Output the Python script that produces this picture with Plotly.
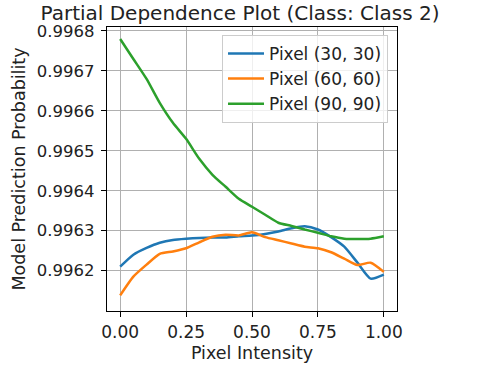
import plotly.graph_objects as go

# pixel intensity grid
intensity = [0.00, 0.05, 0.10, 0.15, 0.20, 0.25, 0.30, 0.35, 0.40, 0.45, 0.50,
             0.55, 0.60, 0.65, 0.70, 0.75, 0.80, 0.85, 0.90, 0.95, 1.00]

# partial dependence per pixel
pixel_30 = [0.99621, 0.99624, 0.996257, 0.99627, 0.996277, 0.99628, 0.996282, 0.996283,
            0.996283, 0.996286, 0.996288, 0.996292, 0.996298, 0.996306, 0.996311, 0.996303,
            0.996284, 0.99626, 0.99622, 0.99618, 0.99619]
pixel_60 = [0.996138, 0.996185, 0.996215, 0.996242, 0.996248, 0.996256, 0.996271, 0.996285,
            0.99629, 0.996288, 0.996296, 0.996284, 0.996276, 0.996268, 0.99626, 0.996256,
            0.996246, 0.99623, 0.996214, 0.99622, 0.996197]
pixel_90 = [0.99678, 0.99673, 0.99668, 0.99662, 0.99657, 0.99653, 0.99648, 0.99644,
            0.99641, 0.99638, 0.99636, 0.99634, 0.99632, 0.996312, 0.996303, 0.996295,
            0.996286, 0.99628, 0.996279, 0.99628, 0.996286]

series_names = ["Pixel (30, 30)", "Pixel (60, 60)", "Pixel (90, 90)"]
colors = ["#1f77b4", "#ff7f0e", "#2ca02c"]

x_ticks = [0.0, 0.25, 0.5, 0.75, 1.0]
y_ticks = [0.9962, 0.9963, 0.9964, 0.9965, 0.9966, 0.9967, 0.9968]

font = "DejaVu Sans, sans-serif"
txt = "#222222"

fig = go.Figure()
for name, ys, c in zip(series_names, [pixel_30, pixel_60, pixel_90], colors):
    fig.add_trace(go.Scatter(x=intensity, y=ys, mode="lines", name=name,
                             line=dict(color=c, width=2.5, shape="spline", smoothing=0.6)))

axis_common = dict(
    showline=True, linecolor="black", linewidth=1.2, mirror=True,
    showgrid=True, gridcolor="#b0b0b0", gridwidth=1,
    ticks="outside", ticklen=5, tickcolor="black", tickwidth=1,
    zeroline=False, automargin=False,
    title_font=dict(size=17.5, color=txt),
)

fig.update_xaxes(range=[-0.05, 1.05], tickvals=x_ticks, tickformat=".2f",
                 ticklabelstandoff=0, tickfont=dict(size=17, color=txt),
                 title_text="Pixel Intensity", title_standoff=6, **axis_common)
fig.update_yaxes(range=[0.996099, 0.99681], tickvals=y_ticks, tickformat=".4f",
                 ticklabelstandoff=3, tickfont=dict(size=16.5, color=txt),
                 title_text="Model Prediction Probability", title_standoff=6,
                 **axis_common)

fig.update_layout(
    width=480, height=373,
    margin=dict(l=107, r=83, t=27, b=62),
    paper_bgcolor="white", plot_bgcolor="white",
    font=dict(family=font, color=txt),
    title=dict(text="Partial Dependence Plot (Class: Class 2)", x=0.5, xanchor="center",
               y=0.985, yanchor="top", font=dict(size=20, color=txt)),
    legend=dict(x=0.969, y=0.972, xanchor="right", yanchor="top", itemwidth=36,
                bgcolor="rgba(255,255,255,0.8)", bordercolor="#cccccc", borderwidth=1,
                font=dict(size=17, color=txt)),
    showlegend=True,
)

# page body has a default margin; remove it so the figure sits at the top-left corner
fig.write_html("out.html", config={"displayModeBar": False},
               post_script="document.body.style.margin='0';")
